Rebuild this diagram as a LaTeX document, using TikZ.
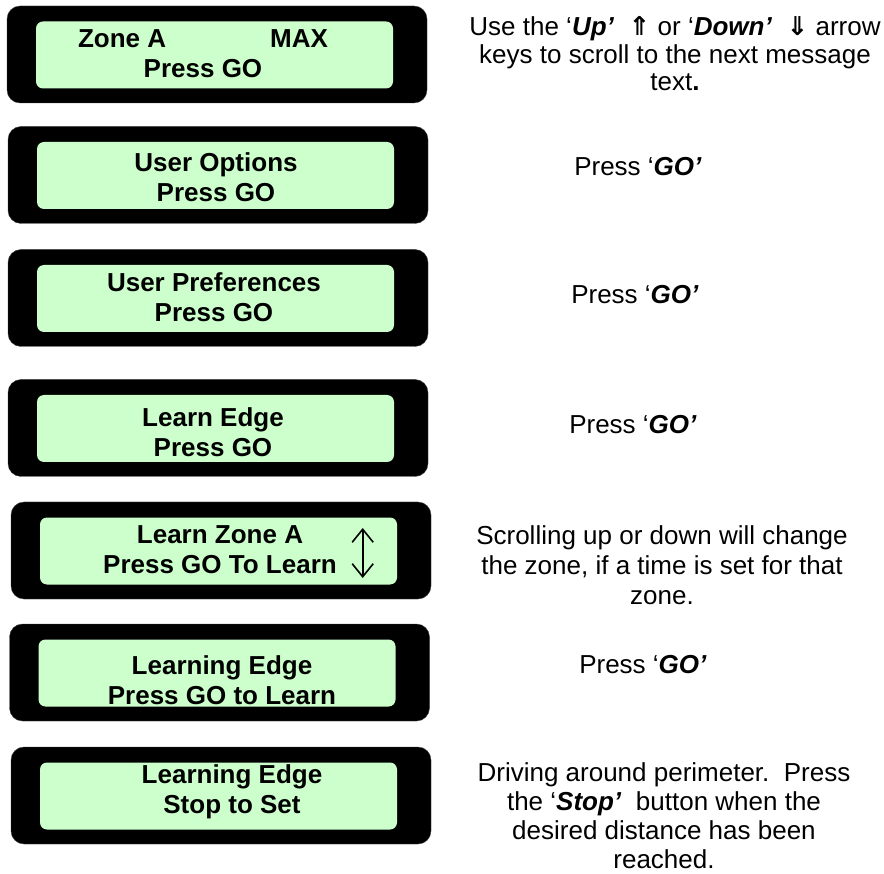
\documentclass[tikz,border=0pt]{standalone}
\usepackage{fontspec}
\setmainfont{Liberation Sans}
\newfontfamily\arrowfont{DejaVu Sans}
\usetikzlibrary{arrows.meta}
\definecolor{lcdgreen}{RGB}{204,255,204}

\tikzset{
  lcdframe/.style={fill=black,draw=black!75,rounded corners=13pt,minimum width=420pt,minimum height=97pt,inner sep=0pt},
  lcdscreen/.style={fill=lcdgreen,rounded corners=7pt,minimum width=357pt,minimum height=67pt,inner sep=0pt},
  lcdtext/.style={font=\fontsize{26}{30}\selectfont\bfseries,align=center,inner sep=0pt},
  hint/.style={font=\fontsize{26}{29}\selectfont,align=center,inner sep=0pt},
  updown/.style={line width=1.6pt,{Straight Barb[length=13pt,width=21pt]}-{Straight Barb[length=13pt,width=21pt]}}
}

\begin{document}
\begin{tikzpicture}[x=1pt,y=-1pt]
\useasboundingbox (0,0) rectangle (884,874);
% displays
\node[lcdframe] (lcd1) at (217,54.5) {};
\node[lcdscreen] (scr1) at (214.5,55) {};
\node[lcdtext] (msg1) at (203,54) {Zone A\hspace{104pt}MAX\\Press GO};
\node[lcdframe] (lcd2) at (218,175) {};
\node[lcdscreen] (scr2) at (215.5,175.5) {};
\node[lcdtext] (msg2) at (216,177) {User Options\\Press GO};
\node[lcdframe] (lcd3) at (218,298) {};
\node[lcdscreen] (scr3) at (215.5,298.5) {};
\node[lcdtext] (msg3) at (214,297) {User Preferences\\Press GO};
\node[lcdframe] (lcd4) at (218,428) {};
\node[lcdscreen] (scr4) at (215.5,428.5) {};
\node[lcdtext] (msg4) at (213,432) {Learn Edge\\Press GO};
\node[lcdframe] (lcd5) at (221,550.5) {};
\node[lcdscreen] (scr5) at (218.5,551) {};
\node[lcdtext] (msg5) at (220,550) {Learn Zone A\\Press GO To Learn};
\coordinate (up5) at (362.7,528);
\coordinate (dn5) at (362.7,578);
\draw[updown] (dn5) -- (up5);
\node[lcdframe] (lcd6) at (219.5,672.5) {};
\node[lcdscreen] (scr6) at (217,673) {};
\node[lcdtext] (msg6) at (222,680) {Learning Edge\\Press GO to Learn};
\node[lcdframe] (lcd7) at (221,795.5) {};
\node[lcdscreen] (scr7) at (218.5,796) {};
\node[lcdtext] (msg7) at (232,792) {Learning Edge\\Stop to Set};
% hints
\node[hint,font=\fontsize{26}{27.5}\selectfont] (tip1) at (675,54) {Use the ‘\textbf{\textit{Up’}}\ \ {\arrowfont\bfseries ⇑} or ‘\textbf{\textit{Down’}}\ \ {\arrowfont\bfseries ⇓} arrow\\keys to scroll to the next message\\text\textbf{.}};
\node[hint] (tip2) at (638,167) {Press ‘\textbf{\textit{GO’}}};
\node[hint] (tip3) at (635,295) {Press ‘\textbf{\textit{GO’}}};
\node[hint] (tip4) at (633,425) {Press ‘\textbf{\textit{GO’}}};
\node[hint,font=\fontsize{26}{30}\selectfont] (tip5) at (662,565) {Scrolling up or down will change\\the zone, if a time is set for that\\zone.};
\node[hint] (tip6) at (643,665) {Press ‘\textbf{\textit{GO’}}};
\node[hint] (tip7) at (664,815.5) {Driving around perimeter.\ \ Press\\the ‘\textbf{\textit{Stop’}}\ \ button when the\\desired distance has been\\reached.};
\end{tikzpicture}
\end{document}
